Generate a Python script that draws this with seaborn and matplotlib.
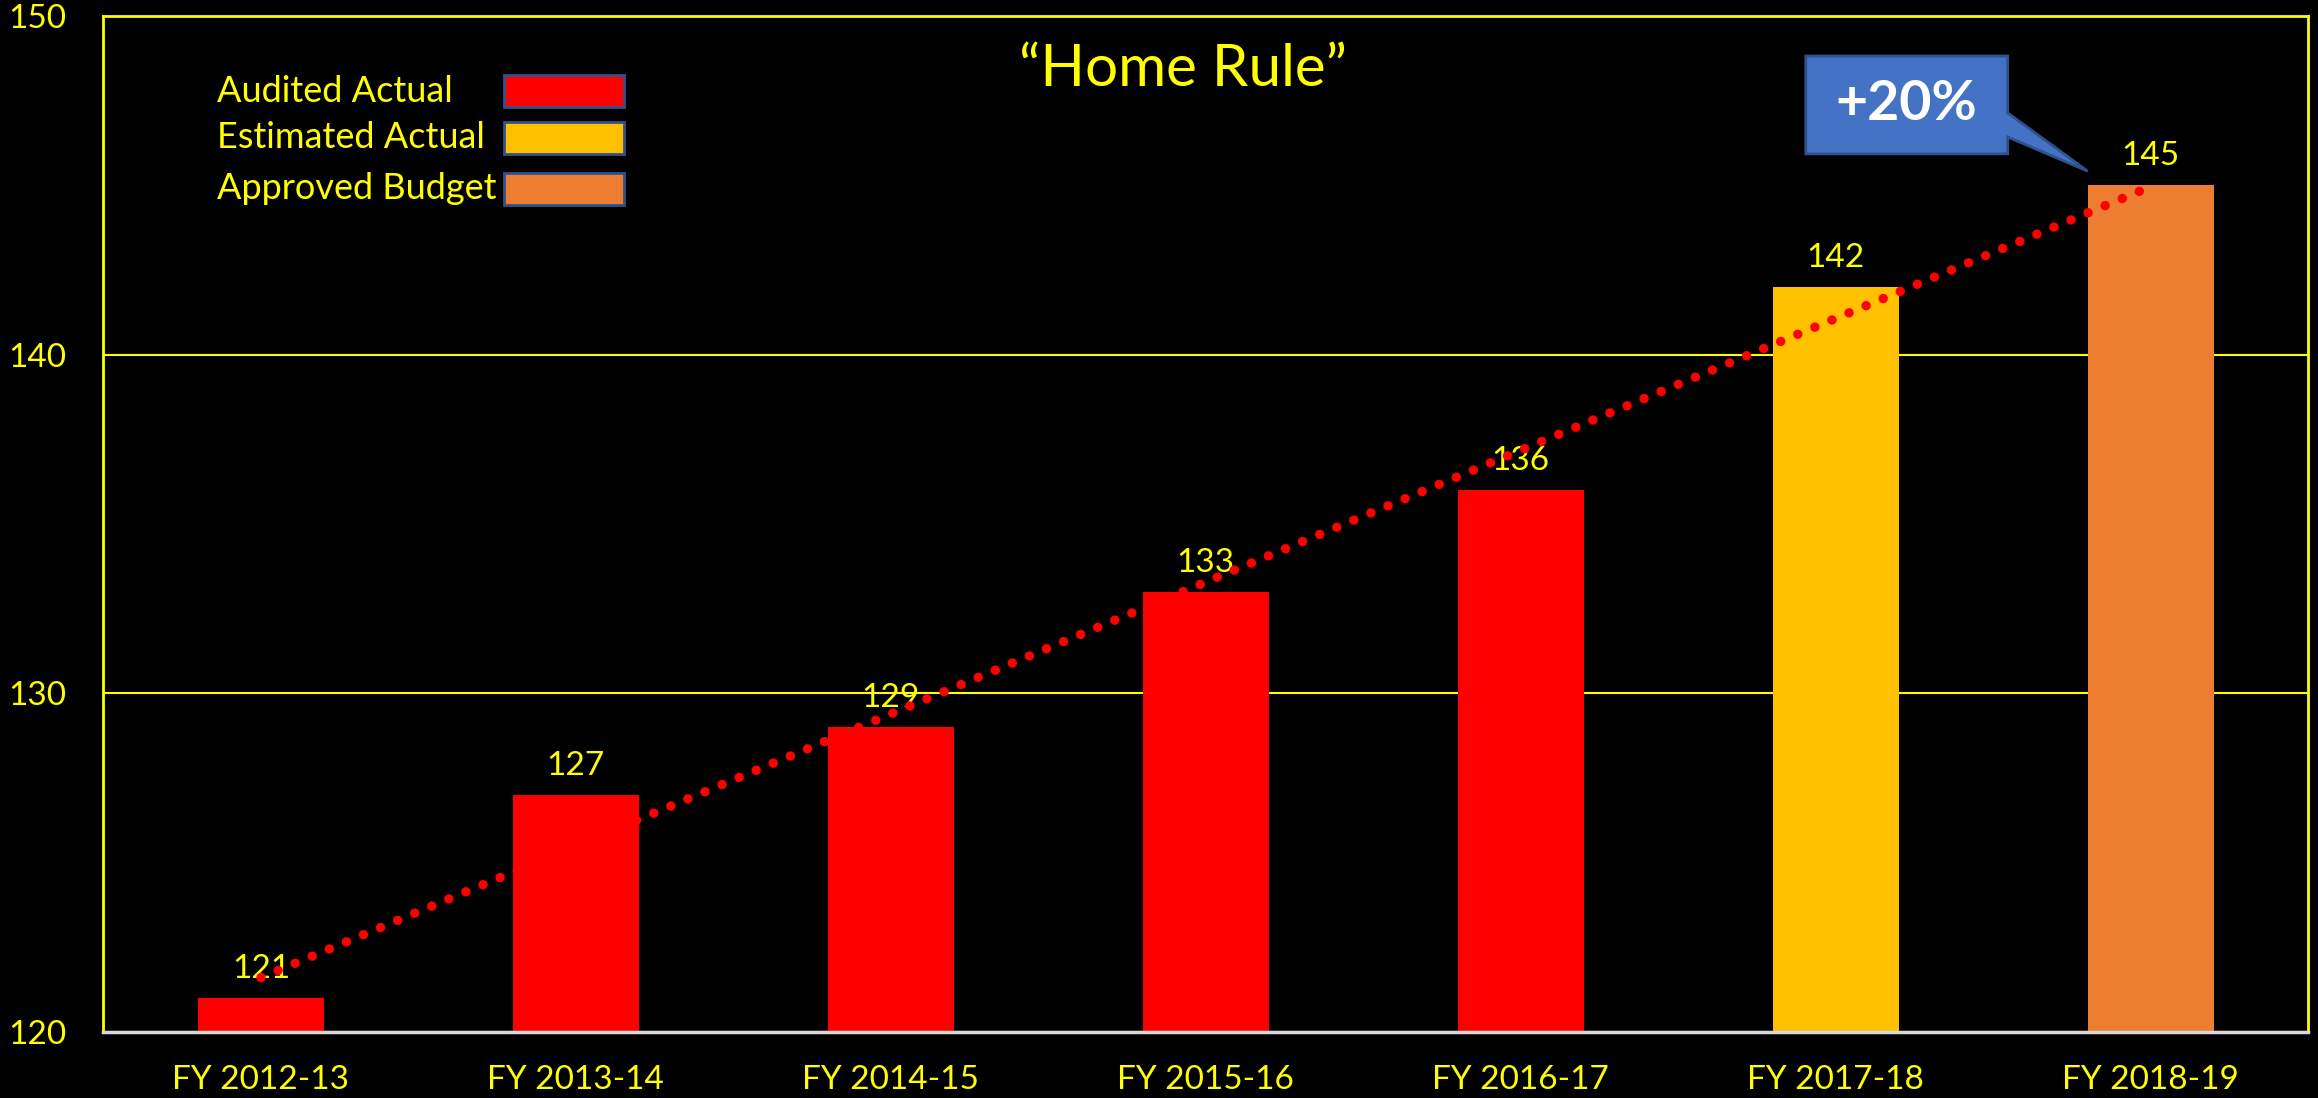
import matplotlib
matplotlib.use("Agg")
import matplotlib.pyplot as plt
from matplotlib.patches import Rectangle, Polygon
import seaborn as sns
import pandas as pd
import numpy as np

years = ["FY 2012-13", "FY 2013-14", "FY 2014-15", "FY 2015-16", "FY 2016-17", "FY 2017-18", "FY 2018-19"]
values = [121, 127, 129, 133, 136, 142, 145]
status = ["Audited Actual"] * 5 + ["Estimated Actual", "Approved Budget"]
status_names = ["Audited Actual", "Estimated Actual", "Approved Budget"]
status_colors = ["#FF0000", "#FFC000", "#ED7D31"]
yticks = [120, 130, 140, 150]
title = "\u201cHome Rule\u201d"
callout = "+20%"

YEL = "#FFFF00"
sns.set_theme(style="dark")
plt.rcParams["font.family"] = ["Lato", "DejaVu Sans"]

df = pd.DataFrame({"year": years, "value": values, "status": status})

fig = plt.figure(figsize=(23.18, 10.98), dpi=100, facecolor="black")
ax = fig.add_axes([0.04465, 0.0601, 0.9511, 0.9253])
ax.set_facecolor("black")

sns.barplot(data=df, x="year", y="value", hue="status", hue_order=status_names,
            palette=dict(zip(status_names, status_colors)), dodge=False, width=0.4,
            saturation=1, legend=False, ax=ax, zorder=2, linewidth=0)

for c in ax.containers:
    ax.bar_label(c, fmt="%d", padding=10, color=YEL, fontsize=24)

# linear trend line
xi = np.arange(len(values))
sns.regplot(x=xi, y=values, ci=None, scatter=False, truncate=True, ax=ax,
            line_kws=dict(color="#FF0000", lw=6.8, linestyle=(0, (0.01, 1.95)),
                          dash_capstyle="round", zorder=3))

ax.set_xlim(-0.5, len(values) - 0.5)
ax.set_ylim(120, 150)
ax.set_yticks(yticks)
ax.set_xlabel("")
ax.set_ylabel("")
ax.tick_params(axis="both", length=0, labelcolor=YEL, labelsize=24)
ax.tick_params(axis="y", pad=27)
ax.tick_params(axis="x", pad=24)
ax.set_axisbelow(True)
ax.grid(axis="y", color=YEL, lw=1.5)
ax.grid(axis="x", visible=False)
for s in ["top", "left", "right"]:
    ax.spines[s].set_visible(True)
    ax.spines[s].set_color(YEL)
    ax.spines[s].set_linewidth(2)
ax.spines["bottom"].set_visible(True)
ax.spines["bottom"].set_color("#D9D9D9")
ax.spines["bottom"].set_linewidth(2.5)
for s in ax.spines.values():
    s.set_zorder(4)

# legend (manual: text left, swatch right)
rows_y = [0.926, 0.880, 0.830]
for name, col, yy in zip(status_names, status_colors, rows_y):
    ax.text(0.0515, yy, name, transform=ax.transAxes, color=YEL, fontsize=26,
            va="center", ha="left")
    ax.add_patch(Rectangle((0.1817, yy - 0.0158), 0.0544, 0.0315, transform=ax.transAxes,
                           facecolor=col, edgecolor="#2F528F", lw=2, zorder=5))

fig.text(0.5104, 0.937, title, color=YEL, fontsize=42, ha="center", va="center")

# callout
pts = [(4.905, 148.82), (5.546, 148.82), (5.546, 147.14), (5.80, 145.42),
       (5.546, 146.43), (5.546, 145.93), (4.905, 145.93)]
ax.add_patch(Polygon(pts, closed=True, facecolor="#4472C4", edgecolor="#2F528F", lw=2, zorder=6))
ax.text(5.2255, 147.4, callout, color="white", fontsize=40, fontweight="bold",
        ha="center", va="center", zorder=7)

fig.savefig("out.png", dpi=100, facecolor="black")
